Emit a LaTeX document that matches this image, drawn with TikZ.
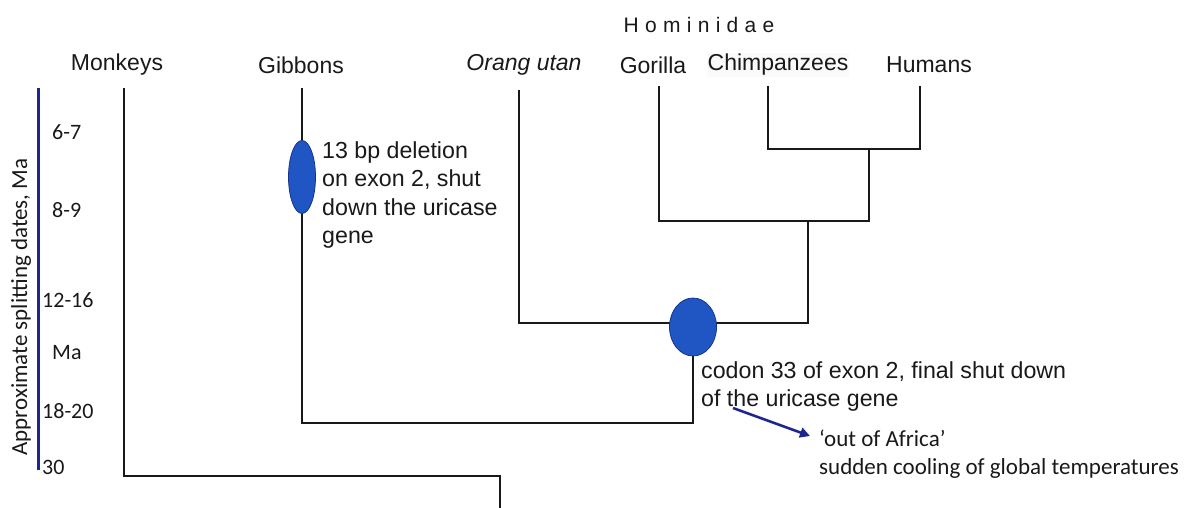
\documentclass[tikz,border=0pt]{standalone}
\usepackage{fontspec}
\setmainfont{Liberation Sans}
\newfontfamily\calfont{Carlito}
\newfontfamily\homfont[LetterSpace=30]{Liberation Sans}
\usetikzlibrary{shapes.geometric,arrows.meta}
\definecolor{axisblue}{RGB}{28,38,140}
\definecolor{markblue}{RGB}{32,86,196}
\definecolor{markedge}{RGB}{22,52,140}
\tikzset{
  taxon/.style={font=\fontsize{23}{26}\selectfont,text=black!90,inner sep=0pt},
  branch/.style={line width=1.2pt,draw=black!90},
  date/.style={font=\calfont\fontsize{22}{28}\selectfont,anchor=west,inner sep=0pt,text=black!90},
  mutation/.style={draw=markedge,fill=markblue,shape=ellipse,line width=0.8pt,inner sep=0pt},
  note/.style={font=\fontsize{23.2}{28.5}\selectfont,align=left,anchor=north west,inner sep=0pt,text=black!90}
}
\begin{document}
\begin{tikzpicture}[x=1pt,y=-1pt]
\useasboundingbox (0,0) rectangle (1187,508);
\node [font=\homfont\fontsize{21}{24}\selectfont,text=black!90,name=hominidae] at (699,25){Hominidae};
\node [taxon,name=monkeys] at (117,65){Monkeys};
\node [taxon,name=gibbons] at (301,65){Gibbons};
\node [taxon,name=orang] at (524,65){\itshape Orang utan};
\node [taxon,name=gorilla] at (653,65){Gorilla};
\node [taxon,name=chimp,fill=black!2,inner sep=1pt] at (778,65){Chimpanzees};
\node [taxon,name=humans] at (929,65){Humans};
\coordinate (mk) at (124,88);
\coordinate (gb) at (302,88);
\coordinate (or) at (519,90);
\coordinate (go) at (659,86);
\coordinate (ch) at (768,86);
\coordinate (hu) at (920,86);
\coordinate (hc) at (869,149);
\coordinate (ghc) at (808,221);
\coordinate (hom) at (693,323);
\coordinate (hoa) at (500,423);
\coordinate (root) at (500,476);
\coordinate (base) at (500,508);
\draw[branch] (ch) |- (hc) -| (hu);
\draw[branch] (go) |- (ghc) -| (hc);
\draw[branch] (or) |- (hom) -| (ghc);
\draw[branch] (gb) |- (hoa) -| (hom);
\draw[branch] (mk) |- (root) -- (base);
\node [mutation,name=e1,minimum width=27pt,minimum height=73pt] at (302,177){};
\node [mutation,name=e2,minimum width=47pt,minimum height=58pt] at (693,327){};
\node [note,name=n1] at (322,141){13 bp deletion\\on exon 2, shut\\down the uricase\\gene};
\node [note,name=n2] at (701,361){codon 33 of exon 2, final shut down\\of the uricase gene};
\coordinate (arrs) at (733,408);
\coordinate (arre) at (810,436);
\draw[-{Triangle[length=10pt,width=10pt]},axisblue,line width=2.6pt] (arrs)--(arre);
\node [date,font=\calfont\fontsize{23}{28}\selectfont,anchor=north west,align=left,name=africa] at (819,430){‘out of Africa’\\sudden cooling of global temperatures};
\coordinate (axtop) at (38,88);
\coordinate (axbot) at (38,470);
\draw[axisblue,line width=3pt] (axtop)--(axbot);
\node [rotate=90,font=\calfont\fontsize{23}{26}\selectfont,text=black!90,name=axtitle] at (21,307){Approximate splitting dates, Ma};
\node [date,name=d1] at (52,132){6-7};
\node [date,name=d2] at (52,210){8-9};
\node [date,name=d3] at (42,300){12-16};
\node [date,name=d4] at (52,353){Ma};
\node [date,name=d5] at (42,411){18-20};
\node [date,name=d6] at (42,467){30};
\end{tikzpicture}
\end{document}
